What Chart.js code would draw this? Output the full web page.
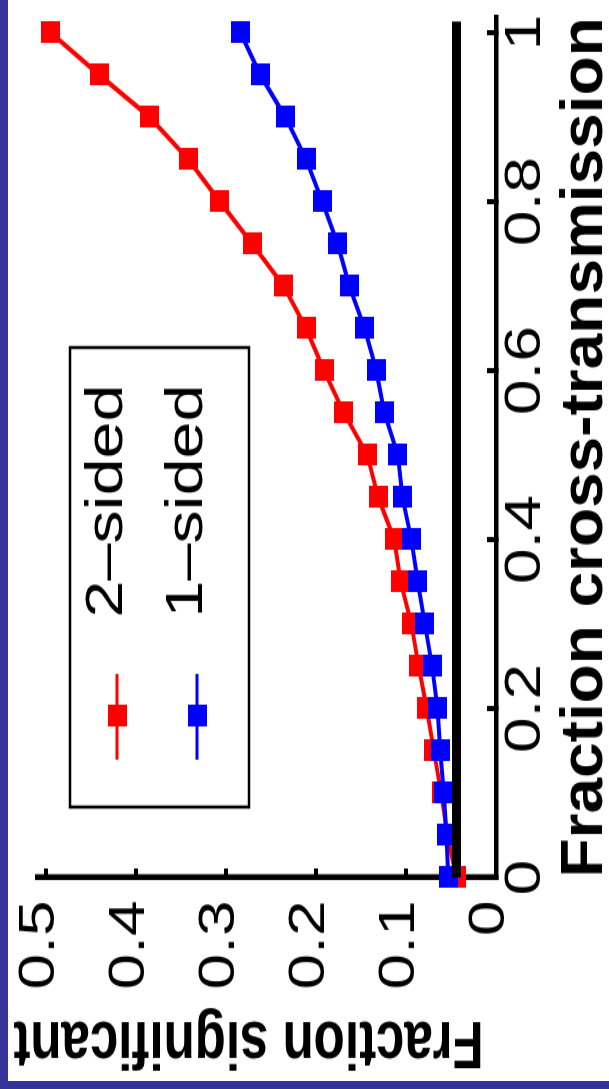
<!DOCTYPE html>
<html>
<head>
<meta charset="utf-8">
<title>Fraction significant vs fraction cross-transmission</title>
<script src="https://cdn.jsdelivr.net/npm/chart.js@4.4.1/dist/chart.umd.min.js"></script>
<style>
  html, body {
    margin: 0;
    padding: 0;
    width: 609px;
    height: 1089px;
    overflow: hidden;
    background: #33339a;
  }
  #paper {
    position: absolute;
    left: 8px;
    top: 0;
    width: 601px;
    height: 1081px;
    background: #fff;
    overflow: hidden;
  }
  /* the figure is shown turned a quarter turn to the left */
  #chart {
    position: absolute;
    left: 0;
    top: 0;
    transform-origin: 0 0;
    transform: translate(0, 1081px) rotate(-90deg) scale(1.28, 1);
  }
</style>
</head>
<body>
<div id="paper">
  <canvas id="chart" width="845" height="601" style="width:845px;height:601px"></canvas>
</div>
<script>
// DATA
const crossTransmission = [0, 0.05, 0.1, 0.15, 0.2, 0.25, 0.3, 0.35, 0.4, 0.45, 0.5,
  0.55, 0.6, 0.65, 0.7, 0.75, 0.8, 0.85, 0.9, 0.95, 1];
const twoSided = [0.044, 0.054, 0.061, 0.069, 0.077, 0.086, 0.094, 0.106, 0.113, 0.131, 0.143,
  0.169, 0.191, 0.211, 0.236, 0.271, 0.307, 0.342, 0.385, 0.441, 0.495];
const oneSided = [0.053, 0.055, 0.058, 0.062, 0.065, 0.071, 0.079, 0.087, 0.094, 0.104, 0.109,
  0.124, 0.133, 0.146, 0.163, 0.176, 0.193, 0.211, 0.234, 0.262, 0.284];
const alphaX = [0, 1.013];
const alphaLevel = 0.044;

const seriesLabels = ["2\u2013sided", "1\u2013sided"];
const xTicks = [0, 0.2, 0.4, 0.6, 0.8, 1];
const xTickLabels = ["0", "0.2", "0.4", "0.6", "0.8", "1"];
const yTicks = [0, 0.1, 0.2, 0.3, 0.4, 0.5];
const yTickLabels = ["0", "0.1", "0.2", "0.3", "0.4", "0.5"];
const yTitle = "Fraction significant";

const RED = "#ff0000";
const BLUE = "#0000ff";
const FONT = "'Liberation Sans', Arial, Helvetica, sans-serif";

Chart.defaults.font.family = FONT;
Chart.defaults.color = "#000";

function squareMarker(color) {
  const c = document.createElement("canvas");
  c.width = 17;
  c.height = 19;
  const g = c.getContext("2d");
  g.fillStyle = color;
  g.fillRect(0, 0, 17, 19);
  return c;
}

function toPoints(xs, ys) {
  return xs.map((x, i) => ({ x, y: ys[i] }));
}

// legend drawn inside the plot, boxed like the original
const boxedLegend = {
  id: "boxedLegend",
  afterDatasetsDraw(chart) {
    const ctx = chart.ctx;
    const rows = [109, 189];
    ctx.save();
    ctx.fillStyle = "#fff";
    ctx.fillRect(214, 62, 359, 179);
    ctx.lineWidth = 2.5;
    ctx.strokeStyle = "#000";
    ctx.strokeRect(214, 62, 359, 179);
    [0, 1].forEach((di, i) => {
      const ds = chart.data.datasets[di];
      const y = rows[i];
      ctx.strokeStyle = ds.borderColor;
      ctx.lineWidth = 3;
      ctx.beginPath();
      ctx.moveTo(251, y);
      ctx.lineTo(318, y);
      ctx.stroke();
      const m = ds.pointStyle;
      ctx.drawImage(m, 285 - m.width / 2, y - m.height / 2);
      ctx.fillStyle = "#000";
      ctx.font = "52px " + FONT;
      ctx.textAlign = "left";
      ctx.textBaseline = "middle";
      ctx.fillText(ds.label, 362, y - 9);
    });
    ctx.restore();
  }
};

// y title sits a little above the middle of the axis in the original
const yAxisTitle = {
  id: "yAxisTitle",
  afterDraw(chart) {
    const s = chart.scales.y;
    const ctx = chart.ctx;
    ctx.save();
    ctx.translate(s.left + 32, (s.top + s.bottom) / 2 - 18);
    ctx.rotate(-Math.PI / 2);
    ctx.font = "bold 51px " + FONT;
    ctx.fillStyle = "#000";
    ctx.textAlign = "center";
    ctx.textBaseline = "middle";
    ctx.fillText(yTitle, 0, 0);
    ctx.restore();
  }
};

const ctx = document.getElementById("chart").getContext("2d");
new Chart(ctx, {
  type: "line",
  data: {
    datasets: [
      {
        label: seriesLabels[0],
        data: toPoints(crossTransmission, twoSided),
        borderColor: RED,
        backgroundColor: RED,
        borderWidth: 4,
        pointStyle: squareMarker(RED),
        pointRadius: 9,
        tension: 0,
        clip: false,
        order: 3
      },
      {
        label: seriesLabels[1],
        data: toPoints(crossTransmission, oneSided),
        borderColor: BLUE,
        backgroundColor: BLUE,
        borderWidth: 4,
        pointStyle: squareMarker(BLUE),
        pointRadius: 9,
        tension: 0,
        clip: false,
        order: 2
      },
      {
        label: "alpha",
        data: toPoints(alphaX, [alphaLevel, alphaLevel]),
        borderColor: "#000",
        borderWidth: 9,
        pointRadius: 0,
        clip: false,
        order: 1
      }
    ]
  },
  options: {
    responsive: false,
    animation: false,
    events: [],
    layout: { padding: { top: 29, right: 14, left: 0, bottom: 0 } },
    plugins: {
      legend: { display: false },
      tooltip: { enabled: false }
    },
    scales: {
      x: {
        type: "linear",
        min: 0,
        max: 1.018,
        afterBuildTicks: s => { s.ticks = xTicks.map(v => ({ value: v })); },
        afterFit: s => {
          s.height = 113;
          s.paddingLeft = s.paddingRight = s.paddingTop = s.paddingBottom = 0;
        },
        ticks: {
          font: { size: 50 },
          padding: 9,
          maxRotation: 0,
          autoSkip: false,
          callback: (v, i) => xTickLabels[i]
        },
        grid: {
          drawOnChartArea: false,
          drawTicks: true,
          tickLength: -9,
          color: "#000",
          lineWidth: 4
        },
        border: { display: true, color: "#000", width: 4.5 },
        title: {
          display: true,
          text: "Fraction cross-transmission",
          align: "end",
          font: { size: 60, weight: "bold", lineHeight: 0.8 },
          padding: { top: 0, bottom: 0 }
        }
      },
      y: {
        type: "linear",
        min: 0,
        max: 0.51,
        afterBuildTicks: s => { s.ticks = yTicks.map(v => ({ value: v })); },
        afterFit: s => {
          s.width = 159;
          s.paddingLeft = s.paddingRight = s.paddingTop = s.paddingBottom = 0;
        },
        ticks: {
          font: { size: 50 },
          padding: 25,
          labelOffset: -6,
          autoSkip: false,
          callback: (v, i) => yTickLabels[i]
        },
        grid: {
          drawOnChartArea: false,
          drawTicks: true,
          tickLength: -7,
          color: "#000",
          lineWidth: 4
        },
        border: { display: true, color: "#000", width: 4.5 },
        title: { display: false }
      }
    }
  },
  plugins: [boxedLegend, yAxisTitle]
});
</script>
</body>
</html>
